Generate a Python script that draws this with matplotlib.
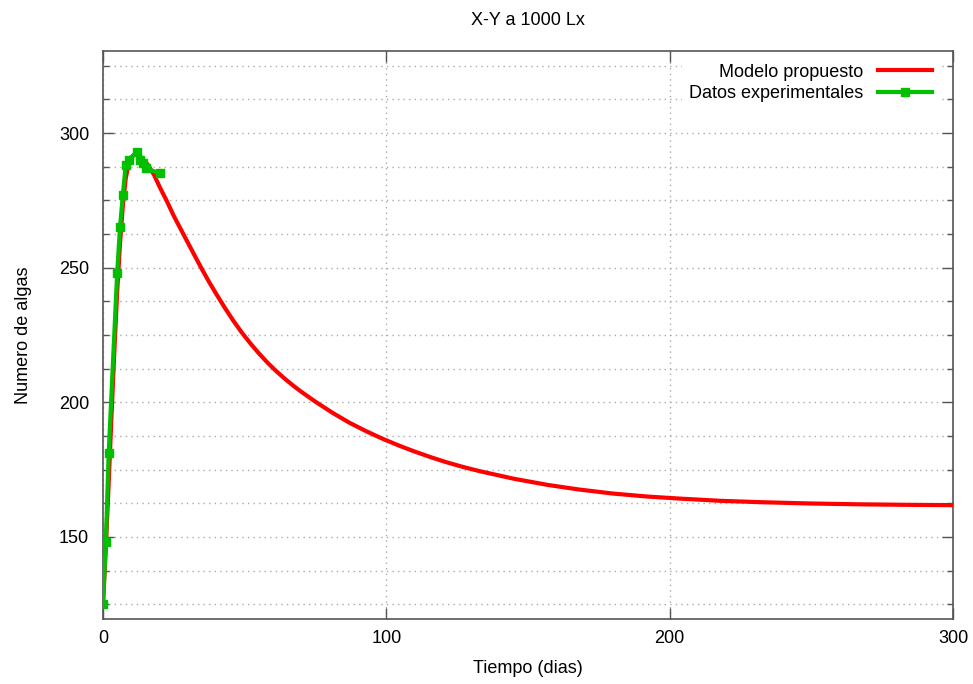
import matplotlib.pyplot as plt
import numpy as np

# Modelo propuesto
model_t = [0, 1, 2, 3, 4, 5, 6, 7, 8, 9, 10, 11, 12, 13, 14, 16, 18, 20,
           22.5, 25, 27.5, 30, 32.5, 35, 37.5, 40, 43, 46, 49, 52, 55, 58,
           61, 64, 67, 70, 75, 81, 87, 93, 99, 105, 110, 116, 121, 127, 133,
           145, 157, 168, 180, 192, 204, 218, 232, 250, 267, 285, 300]
model_y = [125, 146, 170, 195, 219, 241, 259, 273, 283, 288.5, 291, 292, 292,
           291.5, 290.5, 288, 284.5, 280, 274.8, 269.2, 264.2, 259.2, 254.2,
           249.3, 244.6, 240.2, 235.1, 230.3, 225.9, 221.9, 218.2, 214.8,
           211.7, 208.9, 206.3, 203.9, 200.2, 196.1, 192.4, 189.2, 186.3,
           183.7, 181.7, 179.5, 177.8, 176.0, 174.4, 171.6, 169.3, 167.6,
           166.1, 165.0, 164.2, 163.4, 162.9, 162.4, 162.1, 161.9, 161.8]

# Datos experimentales
exp_t = [0, 1, 2, 5, 6, 7, 8, 9, 12, 13, 14, 15, 20]
exp_y = [125, 148, 181, 248, 265, 277, 288, 290, 293, 290, 289, 287, 285]

plt.rcParams['font.family'] = ['Liberation Sans', 'DejaVu Sans']

fig = plt.figure(figsize=(9.73, 6.84), dpi=100)
ax = fig.add_axes([103 / 973, 1 - 619 / 684, 850 / 973, 568 / 684])

ax.plot(model_t, model_y, color='#ff0000', linewidth=3, label='Modelo propuesto', zorder=3)
ax.plot(exp_t, exp_y, color='#00c000', linewidth=3, marker='s', markersize=6,
        label='Datos experimentales', zorder=4)

ax.set_xlim(0, 300)
ax.set_ylim(119.5, 330.5)
ax.set_xticks([0, 100, 200, 300])
ax.set_yticks([150, 200, 250, 300])
ax.set_yticks(np.arange(125, 331, 12.5), minor=True)

ax.tick_params(axis='both', which='both', direction='in', top=True, right=True,
               labelsize=13, color='#555555')
ax.tick_params(which='major', length=8, width=1, pad=10)
ax.tick_params(which='minor', length=4, width=1)
ax.tick_params(axis='x', pad=8)

ax.grid(True, which='major', axis='x', linestyle=(0, (1, 3)), color='#aaaaaa', linewidth=1)
ax.grid(True, which='both', axis='y', linestyle=(0, (1, 3)), color='#aaaaaa', linewidth=1)
ax.set_axisbelow(True)

for s in ax.spines.values():
    s.set_color('#555555')
    s.set_linewidth(1.2)

ax.set_title('X-Y a 1000 Lx', fontsize=13, pad=19)
ax.set_xlabel('Tiempo (dias)', fontsize=13, labelpad=9)
ax.set_ylabel('Numero de algas', fontsize=13, labelpad=19)

leg = ax.legend(loc='upper right', fontsize=13, markerfirst=False, frameon=True,
                handlelength=3.0, borderaxespad=0.3, labelspacing=0.25,
                fancybox=False, bbox_to_anchor=(0.99, 1.0))
leg.get_frame().set_facecolor('white')
leg.get_frame().set_edgecolor('none')
leg.get_frame().set_alpha(1)

fig.savefig('out.png', dpi=100)
